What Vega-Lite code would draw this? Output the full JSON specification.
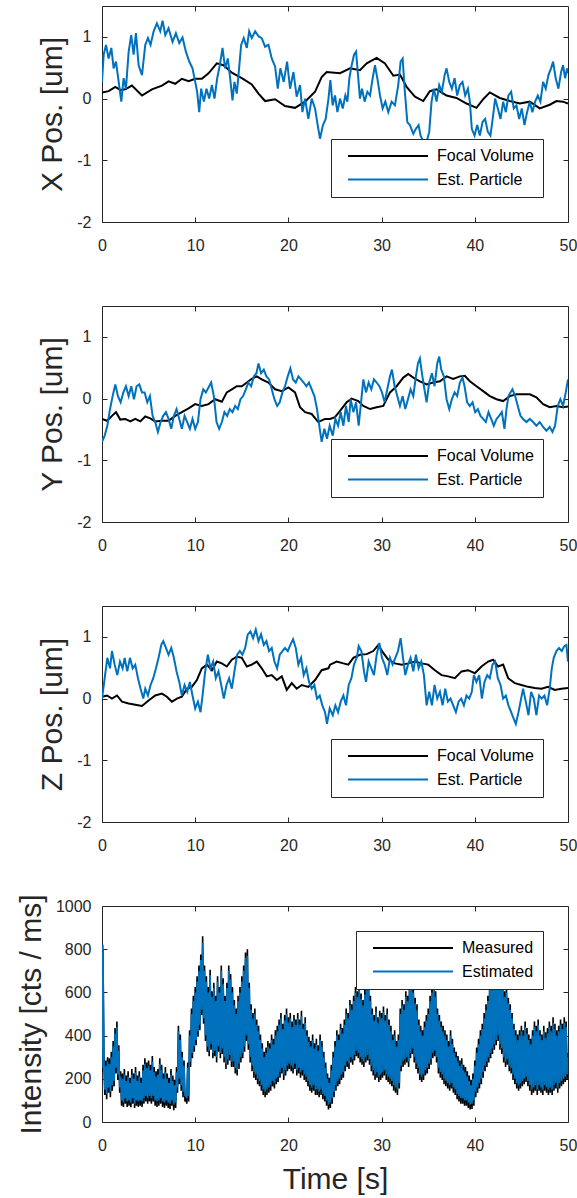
{
"$schema": "https://vega.github.io/schema/vega-lite/v6.json",
"background": "white",
"padding": {"left": 15, "top": 5, "right": 9, "bottom": 2},
"spacing": 84,
"bounds": "flush",
"resolve": {"scale": {"color": "independent"}, "legend": {"color": "independent"}},
"config": {
  "font": "Liberation Sans",
  "view": {"stroke": "#262626", "strokeWidth": 1},
  "axis": {"domain": false, "grid": false, "tickColor": "#262626", "tickSize": -5, "tickWidth": 1, "labelColor": "#262626", "labelFontSize": 16, "labelFlush": false, "labelOverlap": false, "labelBound": false, "titleColor": "#262626", "titleFontSize": 30, "titleFontWeight": "normal"},
  "axisY": {"labelPadding": 16, "titlePadding": 9},
  "axisX": {"labelPadding": 20, "titlePadding": 11},
  "legend": {"title": null, "symbolType": "stroke", "symbolSize": 6400, "symbolStrokeWidth": 2, "clipHeight": 16, "labelFontSize": 16, "labelColor": "#000000", "strokeColor": "#262626", "fillColor": "white", "padding": 9, "symbolOffset": 7, "labelOffset": 8, "rowPadding": 7.5, "cornerRadius": 0, "offset": 25}
},
"datasets": {
"xp": [
{"s":"Focal Volume","t":0,"v":0.1},{"s":"Focal Volume","t":0.71,"v":0.12},{"s":"Focal Volume","t":1.43,"v":0.19},{"s":"Focal Volume","t":1.96,"v":0.14},{"s":"Focal Volume","t":2.5,"v":0.15},{"s":"Focal Volume","t":3.21,"v":0.21},{"s":"Focal Volume","t":4.29,"v":0.05},{"s":"Focal Volume","t":5.36,"v":0.15},{"s":"Focal Volume","t":6.43,"v":0.21},{"s":"Focal Volume","t":7.14,"v":0.28},{"s":"Focal Volume","t":7.86,"v":0.24},{"s":"Focal Volume","t":8.57,"v":0.32},{"s":"Focal Volume","t":9.29,"v":0.28},{"s":"Focal Volume","t":10,"v":0.32},{"s":"Focal Volume","t":10.71,"v":0.32},{"s":"Focal Volume","t":11.43,"v":0.41},{"s":"Focal Volume","t":12.32,"v":0.57},{"s":"Focal Volume","t":13.04,"v":0.54},{"s":"Focal Volume","t":13.93,"v":0.42},{"s":"Focal Volume","t":15,"v":0.33},{"s":"Focal Volume","t":16.07,"v":0.23},{"s":"Focal Volume","t":16.79,"v":0.08},{"s":"Focal Volume","t":17.5,"v":-0.04},{"s":"Focal Volume","t":18.57,"v":-0.01},{"s":"Focal Volume","t":19.64,"v":-0.12},{"s":"Focal Volume","t":20.71,"v":-0.15},{"s":"Focal Volume","t":21.79,"v":-0.05},{"s":"Focal Volume","t":22.86,"v":0.11},{"s":"Focal Volume","t":23.57,"v":0.35},{"s":"Focal Volume","t":24.11,"v":0.43},{"s":"Focal Volume","t":25.54,"v":0.41},{"s":"Focal Volume","t":26.61,"v":0.49},{"s":"Focal Volume","t":27.68,"v":0.46},{"s":"Focal Volume","t":28.4,"v":0.57},{"s":"Focal Volume","t":29.47,"v":0.66},{"s":"Focal Volume","t":30.36,"v":0.57},{"s":"Focal Volume","t":31.26,"v":0.37},{"s":"Focal Volume","t":31.97,"v":0.39},{"s":"Focal Volume","t":32.68,"v":0.19},{"s":"Focal Volume","t":33.58,"v":0.03},{"s":"Focal Volume","t":34.47,"v":-0.04},{"s":"Focal Volume","t":35.18,"v":0.12},{"s":"Focal Volume","t":35.9,"v":0.15},{"s":"Focal Volume","t":36.97,"v":0.05},{"s":"Focal Volume","t":38.04,"v":0.01},{"s":"Focal Volume","t":39.11,"v":-0.08},{"s":"Focal Volume","t":40.18,"v":-0.15},{"s":"Focal Volume","t":40.9,"v":-0.01},{"s":"Focal Volume","t":41.61,"v":0.1},{"s":"Focal Volume","t":42.68,"v":0.01},{"s":"Focal Volume","t":43.76,"v":-0.04},{"s":"Focal Volume","t":44.83,"v":-0.08},{"s":"Focal Volume","t":45.9,"v":-0.05},{"s":"Focal Volume","t":46.97,"v":-0.16},{"s":"Focal Volume","t":48.04,"v":-0.1},{"s":"Focal Volume","t":48.76,"v":-0.04},{"s":"Focal Volume","t":49.47,"v":-0.05},{"s":"Focal Volume","t":50,"v":-0.08},
{"s":"Est. Particle","t":0,"v":0.27},{"s":"Est. Particle","t":0.18,"v":0.71},{"s":"Est. Particle","t":0.43,"v":0.87},{"s":"Est. Particle","t":0.71,"v":0.65},{"s":"Est. Particle","t":1.0,"v":0.82},{"s":"Est. Particle","t":1.25,"v":0.49},{"s":"Est. Particle","t":1.5,"v":0.6},{"s":"Est. Particle","t":1.79,"v":0.27},{"s":"Est. Particle","t":2.07,"v":-0.05},{"s":"Est. Particle","t":2.32,"v":0.33},{"s":"Est. Particle","t":2.57,"v":0.16},{"s":"Est. Particle","t":2.86,"v":0.76},{"s":"Est. Particle","t":3.14,"v":1.03},{"s":"Est. Particle","t":3.39,"v":0.71},{"s":"Est. Particle","t":3.64,"v":1.06},{"s":"Est. Particle","t":3.93,"v":0.54},{"s":"Est. Particle","t":4.29,"v":0.38},{"s":"Est. Particle","t":4.64,"v":0.87},{"s":"Est. Particle","t":4.93,"v":0.98},{"s":"Est. Particle","t":5.21,"v":0.87},{"s":"Est. Particle","t":5.54,"v":1.09},{"s":"Est. Particle","t":5.89,"v":1.22},{"s":"Est. Particle","t":6.25,"v":1.09},{"s":"Est. Particle","t":6.5,"v":1.26},{"s":"Est. Particle","t":6.79,"v":1.03},{"s":"Est. Particle","t":7.14,"v":1.14},{"s":"Est. Particle","t":7.57,"v":0.92},{"s":"Est. Particle","t":7.93,"v":1.06},{"s":"Est. Particle","t":8.29,"v":0.9},{"s":"Est. Particle","t":8.64,"v":0.99},{"s":"Est. Particle","t":9.0,"v":0.76},{"s":"Est. Particle","t":9.36,"v":0.6},{"s":"Est. Particle","t":9.71,"v":0.49},{"s":"Est. Particle","t":10.0,"v":0.27},{"s":"Est. Particle","t":10.21,"v":0.11},{"s":"Est. Particle","t":10.43,"v":-0.22},{"s":"Est. Particle","t":10.64,"v":0.16},{"s":"Est. Particle","t":10.93,"v":-0.05},{"s":"Est. Particle","t":11.21,"v":0.16},{"s":"Est. Particle","t":11.5,"v":0},{"s":"Est. Particle","t":11.79,"v":0.22},{"s":"Est. Particle","t":12.07,"v":0},{"s":"Est. Particle","t":12.36,"v":0.33},{"s":"Est. Particle","t":12.64,"v":0.54},{"s":"Est. Particle","t":12.93,"v":0.82},{"s":"Est. Particle","t":13.21,"v":0.49},{"s":"Est. Particle","t":13.5,"v":0.65},{"s":"Est. Particle","t":13.75,"v":0.33},{"s":"Est. Particle","t":14.0,"v":-0.03},{"s":"Est. Particle","t":14.21,"v":0.27},{"s":"Est. Particle","t":14.46,"v":0.08},{"s":"Est. Particle","t":14.71,"v":0.49},{"s":"Est. Particle","t":14.93,"v":0.87},{"s":"Est. Particle","t":15.21,"v":0.98},{"s":"Est. Particle","t":15.54,"v":0.82},{"s":"Est. Particle","t":15.79,"v":1.09},{"s":"Est. Particle","t":16.07,"v":0.98},{"s":"Est. Particle","t":16.43,"v":1.09},{"s":"Est. Particle","t":16.79,"v":1.01},{"s":"Est. Particle","t":17.14,"v":0.98},{"s":"Est. Particle","t":17.5,"v":0.84},{"s":"Est. Particle","t":17.86,"v":0.87},{"s":"Est. Particle","t":18.21,"v":0.65},{"s":"Est. Particle","t":18.57,"v":0.52},{"s":"Est. Particle","t":18.86,"v":0.16},{"s":"Est. Particle","t":19.14,"v":0.49},{"s":"Est. Particle","t":19.5,"v":0.27},{"s":"Est. Particle","t":19.86,"v":0.6},{"s":"Est. Particle","t":20.18,"v":0.16},{"s":"Est. Particle","t":20.54,"v":0.43},{"s":"Est. Particle","t":20.89,"v":0.03},{"s":"Est. Particle","t":21.25,"v":0.22},{"s":"Est. Particle","t":21.5,"v":-0.22},{"s":"Est. Particle","t":21.79,"v":0},{"s":"Est. Particle","t":22.14,"v":-0.33},{"s":"Est. Particle","t":22.5,"v":0},{"s":"Est. Particle","t":22.86,"v":-0.16},{"s":"Est. Particle","t":23.14,"v":-0.43},{"s":"Est. Particle","t":23.39,"v":-0.65},{"s":"Est. Particle","t":23.71,"v":-0.43},{"s":"Est. Particle","t":24.0,"v":-0.33},{"s":"Est. Particle","t":24.3,"v":0},{"s":"Est. Particle","t":24.5,"v":0.3},{"s":"Est. Particle","t":24.75,"v":-0.11},{"s":"Est. Particle","t":25.0,"v":0.05},{"s":"Est. Particle","t":25.26,"v":-0.22},{"s":"Est. Particle","t":25.54,"v":0},{"s":"Est. Particle","t":25.83,"v":-0.16},{"s":"Est. Particle","t":26.11,"v":0.05},{"s":"Est. Particle","t":26.33,"v":-0.05},{"s":"Est. Particle","t":26.54,"v":0.33},{"s":"Est. Particle","t":26.79,"v":0.54},{"s":"Est. Particle","t":27.04,"v":0.71},{"s":"Est. Particle","t":27.26,"v":0.76},{"s":"Est. Particle","t":27.47,"v":0.38},{"s":"Est. Particle","t":27.68,"v":0},{"s":"Est. Particle","t":27.9,"v":0.16},{"s":"Est. Particle","t":28.18,"v":-0.05},{"s":"Est. Particle","t":28.47,"v":0.11},{"s":"Est. Particle","t":28.76,"v":0.05},{"s":"Est. Particle","t":29.04,"v":0.33},{"s":"Est. Particle","t":29.29,"v":0.54},{"s":"Est. Particle","t":29.54,"v":0.33},{"s":"Est. Particle","t":29.83,"v":0.05},{"s":"Est. Particle","t":30.11,"v":-0.16},{"s":"Est. Particle","t":30.4,"v":-0.05},{"s":"Est. Particle","t":30.72,"v":-0.22},{"s":"Est. Particle","t":31.08,"v":-0.05},{"s":"Est. Particle","t":31.43,"v":-0.11},{"s":"Est. Particle","t":31.79,"v":0.22},{"s":"Est. Particle","t":32.04,"v":0.6},{"s":"Est. Particle","t":32.26,"v":0.65},{"s":"Est. Particle","t":32.47,"v":0.16},{"s":"Est. Particle","t":32.76,"v":-0.38},{"s":"Est. Particle","t":33.04,"v":-0.43},{"s":"Est. Particle","t":33.4,"v":-0.57},{"s":"Est. Particle","t":33.68,"v":-0.49},{"s":"Est. Particle","t":33.97,"v":-0.43},{"s":"Est. Particle","t":34.18,"v":-0.6},{"s":"Est. Particle","t":34.54,"v":-0.71},{"s":"Est. Particle","t":34.83,"v":-0.7},{"s":"Est. Particle","t":35.11,"v":-0.54},{"s":"Est. Particle","t":35.36,"v":-0.05},{"s":"Est. Particle","t":35.61,"v":0.16},{"s":"Est. Particle","t":35.9,"v":-0.05},{"s":"Est. Particle","t":36.18,"v":0.22},{"s":"Est. Particle","t":36.47,"v":0.11},{"s":"Est. Particle","t":36.76,"v":0.38},{"s":"Est. Particle","t":36.97,"v":0.49},{"s":"Est. Particle","t":37.26,"v":0.27},{"s":"Est. Particle","t":37.54,"v":0.16},{"s":"Est. Particle","t":37.83,"v":0.33},{"s":"Est. Particle","t":38.11,"v":0.05},{"s":"Est. Particle","t":38.4,"v":0.22},{"s":"Est. Particle","t":38.68,"v":0.27},{"s":"Est. Particle","t":38.97,"v":0.05},{"s":"Est. Particle","t":39.26,"v":0.16},{"s":"Est. Particle","t":39.47,"v":-0.05},{"s":"Est. Particle","t":39.68,"v":-0.49},{"s":"Est. Particle","t":39.97,"v":-0.6},{"s":"Est. Particle","t":40.26,"v":-0.43},{"s":"Est. Particle","t":40.54,"v":-0.6},{"s":"Est. Particle","t":40.83,"v":-0.38},{"s":"Est. Particle","t":41.11,"v":-0.33},{"s":"Est. Particle","t":41.4,"v":-0.54},{"s":"Est. Particle","t":41.68,"v":-0.6},{"s":"Est. Particle","t":41.97,"v":-0.27},{"s":"Est. Particle","t":42.18,"v":0},{"s":"Est. Particle","t":42.47,"v":-0.16},{"s":"Est. Particle","t":42.76,"v":-0.33},{"s":"Est. Particle","t":43.04,"v":-0.05},{"s":"Est. Particle","t":43.33,"v":-0.22},{"s":"Est. Particle","t":43.61,"v":0.05},{"s":"Est. Particle","t":43.9,"v":0.11},{"s":"Est. Particle","t":44.18,"v":-0.16},{"s":"Est. Particle","t":44.47,"v":-0.11},{"s":"Est. Particle","t":44.76,"v":-0.33},{"s":"Est. Particle","t":45.04,"v":-0.16},{"s":"Est. Particle","t":45.33,"v":-0.43},{"s":"Est. Particle","t":45.61,"v":-0.22},{"s":"Est. Particle","t":45.9,"v":-0.05},{"s":"Est. Particle","t":46.18,"v":-0.22},{"s":"Est. Particle","t":46.47,"v":-0.05},{"s":"Est. Particle","t":46.76,"v":0.05},{"s":"Est. Particle","t":47.04,"v":-0.05},{"s":"Est. Particle","t":47.33,"v":0.27},{"s":"Est. Particle","t":47.61,"v":0.16},{"s":"Est. Particle","t":47.9,"v":0.38},{"s":"Est. Particle","t":48.18,"v":0.49},{"s":"Est. Particle","t":48.4,"v":0.6},{"s":"Est. Particle","t":48.68,"v":0.33},{"s":"Est. Particle","t":48.97,"v":0.16},{"s":"Est. Particle","t":49.26,"v":0.43},{"s":"Est. Particle","t":49.47,"v":0.54},{"s":"Est. Particle","t":49.69,"v":0.33},{"s":"Est. Particle","t":49.9,"v":0.49},{"s":"Est. Particle","t":50,"v":0.41}
],
"yp": [
{"s":"Focal Volume","t":0,"v":-0.33},{"s":"Focal Volume","t":0.54,"v":-0.36},{"s":"Focal Volume","t":1.07,"v":-0.28},{"s":"Focal Volume","t":1.5,"v":-0.22},{"s":"Focal Volume","t":1.96,"v":-0.34},{"s":"Focal Volume","t":2.5,"v":-0.33},{"s":"Focal Volume","t":3.04,"v":-0.37},{"s":"Focal Volume","t":3.57,"v":-0.33},{"s":"Focal Volume","t":4.11,"v":-0.37},{"s":"Focal Volume","t":4.64,"v":-0.29},{"s":"Focal Volume","t":5.18,"v":-0.32},{"s":"Focal Volume","t":5.71,"v":-0.37},{"s":"Focal Volume","t":6.43,"v":-0.36},{"s":"Focal Volume","t":7.14,"v":-0.36},{"s":"Focal Volume","t":7.86,"v":-0.28},{"s":"Focal Volume","t":8.57,"v":-0.22},{"s":"Focal Volume","t":9.29,"v":-0.16},{"s":"Focal Volume","t":10,"v":-0.09},{"s":"Focal Volume","t":10.71,"v":-0.12},{"s":"Focal Volume","t":11.43,"v":-0.09},{"s":"Focal Volume","t":12.14,"v":-0.01},{"s":"Focal Volume","t":12.86,"v":-0.05},{"s":"Focal Volume","t":13.39,"v":0.1},{"s":"Focal Volume","t":13.93,"v":0.15},{"s":"Focal Volume","t":14.46,"v":0.2},{"s":"Focal Volume","t":15,"v":0.2},{"s":"Focal Volume","t":15.54,"v":0.26},{"s":"Focal Volume","t":16.07,"v":0.32},{"s":"Focal Volume","t":16.61,"v":0.36},{"s":"Focal Volume","t":17.14,"v":0.31},{"s":"Focal Volume","t":17.86,"v":0.26},{"s":"Focal Volume","t":18.57,"v":0.15},{"s":"Focal Volume","t":19.29,"v":0.12},{"s":"Focal Volume","t":20,"v":0.18},{"s":"Focal Volume","t":20.71,"v":0.1},{"s":"Focal Volume","t":21.25,"v":-0.14},{"s":"Focal Volume","t":21.79,"v":-0.22},{"s":"Focal Volume","t":22.5,"v":-0.25},{"s":"Focal Volume","t":23.21,"v":-0.38},{"s":"Focal Volume","t":23.93,"v":-0.33},{"s":"Focal Volume","t":24.47,"v":-0.33},{"s":"Focal Volume","t":25.0,"v":-0.3},{"s":"Focal Volume","t":25.54,"v":-0.2},{"s":"Focal Volume","t":26.25,"v":-0.06},{"s":"Focal Volume","t":26.79,"v":0},{"s":"Focal Volume","t":27.5,"v":-0.04},{"s":"Focal Volume","t":28.04,"v":-0.12},{"s":"Focal Volume","t":28.76,"v":-0.17},{"s":"Focal Volume","t":29.47,"v":-0.14},{"s":"Focal Volume","t":30.18,"v":-0.12},{"s":"Focal Volume","t":30.9,"v":0.1},{"s":"Focal Volume","t":31.61,"v":0.2},{"s":"Focal Volume","t":32.33,"v":0.34},{"s":"Focal Volume","t":32.86,"v":0.4},{"s":"Focal Volume","t":33.4,"v":0.34},{"s":"Focal Volume","t":34.11,"v":0.28},{"s":"Focal Volume","t":34.83,"v":0.23},{"s":"Focal Volume","t":35.54,"v":0.26},{"s":"Focal Volume","t":36.26,"v":0.28},{"s":"Focal Volume","t":36.97,"v":0.36},{"s":"Focal Volume","t":37.68,"v":0.32},{"s":"Focal Volume","t":38.4,"v":0.36},{"s":"Focal Volume","t":38.93,"v":0.37},{"s":"Focal Volume","t":39.47,"v":0.28},{"s":"Focal Volume","t":40.18,"v":0.2},{"s":"Focal Volume","t":40.9,"v":0.12},{"s":"Focal Volume","t":41.61,"v":0.04},{"s":"Focal Volume","t":42.33,"v":-0.01},{"s":"Focal Volume","t":43.04,"v":-0.04},{"s":"Focal Volume","t":43.76,"v":0.04},{"s":"Focal Volume","t":44.47,"v":0.07},{"s":"Focal Volume","t":45.18,"v":0.07},{"s":"Focal Volume","t":45.9,"v":0.07},{"s":"Focal Volume","t":46.61,"v":0.02},{"s":"Focal Volume","t":47.33,"v":-0.09},{"s":"Focal Volume","t":48.04,"v":-0.14},{"s":"Focal Volume","t":48.76,"v":-0.12},{"s":"Focal Volume","t":49.47,"v":-0.14},{"s":"Focal Volume","t":50,"v":-0.13},
{"s":"Est. Particle","t":0,"v":-0.7},{"s":"Est. Particle","t":0.29,"v":-0.6},{"s":"Est. Particle","t":0.57,"v":-0.44},{"s":"Est. Particle","t":0.86,"v":-0.17},{"s":"Est. Particle","t":1.14,"v":0.04},{"s":"Est. Particle","t":1.43,"v":0.23},{"s":"Est. Particle","t":1.71,"v":0.04},{"s":"Est. Particle","t":2.0,"v":-0.06},{"s":"Est. Particle","t":2.29,"v":0.1},{"s":"Est. Particle","t":2.57,"v":0.2},{"s":"Est. Particle","t":2.86,"v":0.04},{"s":"Est. Particle","t":3.14,"v":0.2},{"s":"Est. Particle","t":3.43,"v":-0.01},{"s":"Est. Particle","t":3.71,"v":0.2},{"s":"Est. Particle","t":4.0,"v":0.23},{"s":"Est. Particle","t":4.29,"v":0.1},{"s":"Est. Particle","t":4.57,"v":0.1},{"s":"Est. Particle","t":4.86,"v":-0.06},{"s":"Est. Particle","t":5.14,"v":0.04},{"s":"Est. Particle","t":5.43,"v":-0.28},{"s":"Est. Particle","t":5.71,"v":-0.38},{"s":"Est. Particle","t":6.0,"v":-0.54},{"s":"Est. Particle","t":6.29,"v":-0.38},{"s":"Est. Particle","t":6.57,"v":-0.28},{"s":"Est. Particle","t":6.86,"v":-0.22},{"s":"Est. Particle","t":7.14,"v":-0.33},{"s":"Est. Particle","t":7.43,"v":-0.49},{"s":"Est. Particle","t":7.71,"v":-0.28},{"s":"Est. Particle","t":8.0,"v":-0.17},{"s":"Est. Particle","t":8.29,"v":-0.33},{"s":"Est. Particle","t":8.57,"v":-0.49},{"s":"Est. Particle","t":8.86,"v":-0.28},{"s":"Est. Particle","t":9.14,"v":-0.38},{"s":"Est. Particle","t":9.43,"v":-0.49},{"s":"Est. Particle","t":9.71,"v":-0.33},{"s":"Est. Particle","t":10.0,"v":-0.49},{"s":"Est. Particle","t":10.29,"v":-0.38},{"s":"Est. Particle","t":10.57,"v":-0.01},{"s":"Est. Particle","t":10.86,"v":0.15},{"s":"Est. Particle","t":11.14,"v":0.1},{"s":"Est. Particle","t":11.43,"v":0.18},{"s":"Est. Particle","t":11.71,"v":0.26},{"s":"Est. Particle","t":12.0,"v":0.04},{"s":"Est. Particle","t":12.29,"v":-0.38},{"s":"Est. Particle","t":12.57,"v":-0.49},{"s":"Est. Particle","t":12.86,"v":-0.38},{"s":"Est. Particle","t":13.14,"v":-0.22},{"s":"Est. Particle","t":13.43,"v":-0.28},{"s":"Est. Particle","t":13.71,"v":-0.17},{"s":"Est. Particle","t":14.0,"v":-0.22},{"s":"Est. Particle","t":14.29,"v":-0.12},{"s":"Est. Particle","t":14.57,"v":-0.17},{"s":"Est. Particle","t":14.86,"v":-0.01},{"s":"Est. Particle","t":15.14,"v":0.04},{"s":"Est. Particle","t":15.43,"v":0.15},{"s":"Est. Particle","t":15.71,"v":0.26},{"s":"Est. Particle","t":16.0,"v":0.2},{"s":"Est. Particle","t":16.29,"v":0.36},{"s":"Est. Particle","t":16.57,"v":0.41},{"s":"Est. Particle","t":16.79,"v":0.57},{"s":"Est. Particle","t":17.07,"v":0.41},{"s":"Est. Particle","t":17.36,"v":0.47},{"s":"Est. Particle","t":17.64,"v":0.36},{"s":"Est. Particle","t":17.93,"v":0.31},{"s":"Est. Particle","t":18.21,"v":0.15},{"s":"Est. Particle","t":18.5,"v":-0.01},{"s":"Est. Particle","t":18.79,"v":-0.12},{"s":"Est. Particle","t":19.07,"v":-0.06},{"s":"Est. Particle","t":19.36,"v":0.1},{"s":"Est. Particle","t":19.64,"v":0.2},{"s":"Est. Particle","t":19.93,"v":0.36},{"s":"Est. Particle","t":20.21,"v":0.49},{"s":"Est. Particle","t":20.5,"v":0.31},{"s":"Est. Particle","t":20.79,"v":0.26},{"s":"Est. Particle","t":21.07,"v":0.36},{"s":"Est. Particle","t":21.36,"v":0.31},{"s":"Est. Particle","t":21.64,"v":0.26},{"s":"Est. Particle","t":21.93,"v":0.2},{"s":"Est. Particle","t":22.21,"v":0.26},{"s":"Est. Particle","t":22.5,"v":0.15},{"s":"Est. Particle","t":22.79,"v":0.04},{"s":"Est. Particle","t":23.07,"v":-0.17},{"s":"Est. Particle","t":23.36,"v":-0.49},{"s":"Est. Particle","t":23.57,"v":-0.7},{"s":"Est. Particle","t":23.86,"v":-0.49},{"s":"Est. Particle","t":24.14,"v":-0.65},{"s":"Est. Particle","t":24.43,"v":-0.44},{"s":"Est. Particle","t":24.76,"v":-0.6},{"s":"Est. Particle","t":25.04,"v":-0.33},{"s":"Est. Particle","t":25.33,"v":-0.44},{"s":"Est. Particle","t":25.61,"v":-0.22},{"s":"Est. Particle","t":25.9,"v":-0.44},{"s":"Est. Particle","t":26.18,"v":-0.12},{"s":"Est. Particle","t":26.47,"v":-0.38},{"s":"Est. Particle","t":26.68,"v":-0.01},{"s":"Est. Particle","t":26.97,"v":-0.22},{"s":"Est. Particle","t":27.26,"v":-0.06},{"s":"Est. Particle","t":27.54,"v":-0.44},{"s":"Est. Particle","t":27.83,"v":-0.01},{"s":"Est. Particle","t":28.04,"v":0.31},{"s":"Est. Particle","t":28.33,"v":0.1},{"s":"Est. Particle","t":28.61,"v":0.26},{"s":"Est. Particle","t":28.9,"v":0.15},{"s":"Est. Particle","t":29.18,"v":0.31},{"s":"Est. Particle","t":29.47,"v":0.26},{"s":"Est. Particle","t":29.76,"v":0.2},{"s":"Est. Particle","t":30.04,"v":0.1},{"s":"Est. Particle","t":30.33,"v":-0.06},{"s":"Est. Particle","t":30.61,"v":0.15},{"s":"Est. Particle","t":30.9,"v":0.36},{"s":"Est. Particle","t":31.11,"v":0.47},{"s":"Est. Particle","t":31.4,"v":0.2},{"s":"Est. Particle","t":31.68,"v":0.04},{"s":"Est. Particle","t":31.97,"v":-0.12},{"s":"Est. Particle","t":32.26,"v":0.04},{"s":"Est. Particle","t":32.54,"v":-0.17},{"s":"Est. Particle","t":32.83,"v":-0.01},{"s":"Est. Particle","t":33.11,"v":0.15},{"s":"Est. Particle","t":33.4,"v":0.04},{"s":"Est. Particle","t":33.68,"v":0.36},{"s":"Est. Particle","t":33.9,"v":0.57},{"s":"Est. Particle","t":34.11,"v":0.65},{"s":"Est. Particle","t":34.33,"v":0.41},{"s":"Est. Particle","t":34.54,"v":0.2},{"s":"Est. Particle","t":34.83,"v":-0.06},{"s":"Est. Particle","t":35.11,"v":0.26},{"s":"Est. Particle","t":35.4,"v":0.41},{"s":"Est. Particle","t":35.68,"v":0.2},{"s":"Est. Particle","t":35.97,"v":0.57},{"s":"Est. Particle","t":36.18,"v":0.68},{"s":"Est. Particle","t":36.4,"v":0.47},{"s":"Est. Particle","t":36.68,"v":0.36},{"s":"Est. Particle","t":36.97,"v":-0.01},{"s":"Est. Particle","t":37.26,"v":-0.17},{"s":"Est. Particle","t":37.54,"v":-0.01},{"s":"Est. Particle","t":37.83,"v":0.1},{"s":"Est. Particle","t":38.11,"v":0.04},{"s":"Est. Particle","t":38.4,"v":0.26},{"s":"Est. Particle","t":38.68,"v":0.34},{"s":"Est. Particle","t":38.9,"v":0.2},{"s":"Est. Particle","t":39.18,"v":-0.06},{"s":"Est. Particle","t":39.47,"v":-0.12},{"s":"Est. Particle","t":39.76,"v":-0.06},{"s":"Est. Particle","t":40.04,"v":-0.22},{"s":"Est. Particle","t":40.33,"v":-0.17},{"s":"Est. Particle","t":40.61,"v":-0.28},{"s":"Est. Particle","t":40.9,"v":-0.33},{"s":"Est. Particle","t":41.18,"v":-0.38},{"s":"Est. Particle","t":41.47,"v":-0.22},{"s":"Est. Particle","t":41.76,"v":-0.33},{"s":"Est. Particle","t":42.04,"v":-0.44},{"s":"Est. Particle","t":42.33,"v":-0.33},{"s":"Est. Particle","t":42.61,"v":-0.28},{"s":"Est. Particle","t":42.9,"v":-0.22},{"s":"Est. Particle","t":43.18,"v":-0.49},{"s":"Est. Particle","t":43.4,"v":-0.17},{"s":"Est. Particle","t":43.61,"v":0.04},{"s":"Est. Particle","t":43.83,"v":0.1},{"s":"Est. Particle","t":44.04,"v":0.15},{"s":"Est. Particle","t":44.33,"v":0.04},{"s":"Est. Particle","t":44.61,"v":-0.12},{"s":"Est. Particle","t":44.9,"v":-0.28},{"s":"Est. Particle","t":45.18,"v":-0.33},{"s":"Est. Particle","t":45.54,"v":-0.38},{"s":"Est. Particle","t":45.9,"v":-0.33},{"s":"Est. Particle","t":46.26,"v":-0.38},{"s":"Est. Particle","t":46.61,"v":-0.44},{"s":"Est. Particle","t":46.97,"v":-0.38},{"s":"Est. Particle","t":47.33,"v":-0.46},{"s":"Est. Particle","t":47.68,"v":-0.52},{"s":"Est. Particle","t":48.04,"v":-0.46},{"s":"Est. Particle","t":48.33,"v":-0.54},{"s":"Est. Particle","t":48.61,"v":-0.44},{"s":"Est. Particle","t":48.9,"v":-0.12},{"s":"Est. Particle","t":49.18,"v":-0.01},{"s":"Est. Particle","t":49.47,"v":-0.12},{"s":"Est. Particle","t":49.76,"v":0.1},{"s":"Est. Particle","t":50,"v":0.31}
],
"zp": [
{"s":"Focal Volume","t":0,"v":0.03},{"s":"Focal Volume","t":0.54,"v":0.05},{"s":"Focal Volume","t":1.07,"v":0},{"s":"Focal Volume","t":1.61,"v":0.05},{"s":"Focal Volume","t":2.14,"v":-0.05},{"s":"Focal Volume","t":2.86,"v":-0.08},{"s":"Focal Volume","t":3.57,"v":-0.1},{"s":"Focal Volume","t":4.29,"v":-0.12},{"s":"Focal Volume","t":5.0,"v":-0.03},{"s":"Focal Volume","t":5.71,"v":0.05},{"s":"Focal Volume","t":6.43,"v":0.08},{"s":"Focal Volume","t":6.96,"v":0.03},{"s":"Focal Volume","t":7.5,"v":-0.05},{"s":"Focal Volume","t":8.04,"v":0},{"s":"Focal Volume","t":8.57,"v":0.03},{"s":"Focal Volume","t":9.11,"v":0.16},{"s":"Focal Volume","t":9.64,"v":0.19},{"s":"Focal Volume","t":10.18,"v":0.3},{"s":"Focal Volume","t":10.71,"v":0.49},{"s":"Focal Volume","t":11.25,"v":0.55},{"s":"Focal Volume","t":11.79,"v":0.46},{"s":"Focal Volume","t":12.32,"v":0.6},{"s":"Focal Volume","t":12.86,"v":0.57},{"s":"Focal Volume","t":13.39,"v":0.52},{"s":"Focal Volume","t":13.93,"v":0.63},{"s":"Focal Volume","t":14.46,"v":0.68},{"s":"Focal Volume","t":15.0,"v":0.66},{"s":"Focal Volume","t":15.54,"v":0.52},{"s":"Focal Volume","t":16.07,"v":0.55},{"s":"Focal Volume","t":16.61,"v":0.6},{"s":"Focal Volume","t":17.14,"v":0.49},{"s":"Focal Volume","t":17.68,"v":0.36},{"s":"Focal Volume","t":18.21,"v":0.38},{"s":"Focal Volume","t":18.75,"v":0.3},{"s":"Focal Volume","t":19.29,"v":0.36},{"s":"Focal Volume","t":19.82,"v":0.14},{"s":"Focal Volume","t":20.36,"v":0.25},{"s":"Focal Volume","t":20.89,"v":0.16},{"s":"Focal Volume","t":21.43,"v":0.22},{"s":"Focal Volume","t":22.14,"v":0.19},{"s":"Focal Volume","t":22.86,"v":0.3},{"s":"Focal Volume","t":23.57,"v":0.46},{"s":"Focal Volume","t":24.29,"v":0.49},{"s":"Focal Volume","t":24.47,"v":0.55},{"s":"Focal Volume","t":25.18,"v":0.6},{"s":"Focal Volume","t":25.9,"v":0.57},{"s":"Focal Volume","t":26.43,"v":0.55},{"s":"Focal Volume","t":26.97,"v":0.66},{"s":"Focal Volume","t":27.68,"v":0.71},{"s":"Focal Volume","t":28.4,"v":0.72},{"s":"Focal Volume","t":29.11,"v":0.77},{"s":"Focal Volume","t":29.65,"v":0.87},{"s":"Focal Volume","t":30.18,"v":0.74},{"s":"Focal Volume","t":30.72,"v":0.63},{"s":"Focal Volume","t":31.43,"v":0.57},{"s":"Focal Volume","t":32.15,"v":0.55},{"s":"Focal Volume","t":32.86,"v":0.57},{"s":"Focal Volume","t":33.58,"v":0.6},{"s":"Focal Volume","t":34.29,"v":0.57},{"s":"Focal Volume","t":35.0,"v":0.55},{"s":"Focal Volume","t":35.72,"v":0.46},{"s":"Focal Volume","t":36.43,"v":0.38},{"s":"Focal Volume","t":37.15,"v":0.36},{"s":"Focal Volume","t":37.86,"v":0.33},{"s":"Focal Volume","t":38.58,"v":0.44},{"s":"Focal Volume","t":39.29,"v":0.46},{"s":"Focal Volume","t":40.0,"v":0.41},{"s":"Focal Volume","t":40.72,"v":0.52},{"s":"Focal Volume","t":41.43,"v":0.6},{"s":"Focal Volume","t":41.97,"v":0.63},{"s":"Focal Volume","t":42.51,"v":0.52},{"s":"Focal Volume","t":43.04,"v":0.55},{"s":"Focal Volume","t":43.58,"v":0.33},{"s":"Focal Volume","t":44.29,"v":0.25},{"s":"Focal Volume","t":45.0,"v":0.22},{"s":"Focal Volume","t":45.72,"v":0.19},{"s":"Focal Volume","t":46.43,"v":0.17},{"s":"Focal Volume","t":47.15,"v":0.16},{"s":"Focal Volume","t":47.86,"v":0.19},{"s":"Focal Volume","t":48.58,"v":0.14},{"s":"Focal Volume","t":49.29,"v":0.16},{"s":"Focal Volume","t":50,"v":0.17},
{"s":"Est. Particle","t":0,"v":0},{"s":"Est. Particle","t":0.29,"v":0.33},{"s":"Est. Particle","t":0.57,"v":0.66},{"s":"Est. Particle","t":0.86,"v":0.49},{"s":"Est. Particle","t":1.07,"v":0.77},{"s":"Est. Particle","t":1.36,"v":0.55},{"s":"Est. Particle","t":1.64,"v":0.38},{"s":"Est. Particle","t":1.93,"v":0.6},{"s":"Est. Particle","t":2.21,"v":0.49},{"s":"Est. Particle","t":2.43,"v":0.66},{"s":"Est. Particle","t":2.71,"v":0.44},{"s":"Est. Particle","t":3.0,"v":0.66},{"s":"Est. Particle","t":3.29,"v":0.49},{"s":"Est. Particle","t":3.57,"v":0.55},{"s":"Est. Particle","t":3.86,"v":0.33},{"s":"Est. Particle","t":4.14,"v":0.16},{"s":"Est. Particle","t":4.43,"v":0},{"s":"Est. Particle","t":4.64,"v":0.16},{"s":"Est. Particle","t":4.93,"v":0.05},{"s":"Est. Particle","t":5.21,"v":0.22},{"s":"Est. Particle","t":5.5,"v":0.33},{"s":"Est. Particle","t":5.79,"v":0.49},{"s":"Est. Particle","t":6.07,"v":0.66},{"s":"Est. Particle","t":6.36,"v":0.87},{"s":"Est. Particle","t":6.57,"v":0.93},{"s":"Est. Particle","t":6.86,"v":0.82},{"s":"Est. Particle","t":7.14,"v":0.71},{"s":"Est. Particle","t":7.43,"v":0.82},{"s":"Est. Particle","t":7.71,"v":0.66},{"s":"Est. Particle","t":8.0,"v":0.44},{"s":"Est. Particle","t":8.29,"v":0.27},{"s":"Est. Particle","t":8.57,"v":0.05},{"s":"Est. Particle","t":8.86,"v":0.22},{"s":"Est. Particle","t":9.14,"v":0.11},{"s":"Est. Particle","t":9.43,"v":0.27},{"s":"Est. Particle","t":9.71,"v":0.05},{"s":"Est. Particle","t":10.0,"v":-0.16},{"s":"Est. Particle","t":10.29,"v":-0.05},{"s":"Est. Particle","t":10.57,"v":-0.22},{"s":"Est. Particle","t":10.79,"v":0.05},{"s":"Est. Particle","t":11.07,"v":0.44},{"s":"Est. Particle","t":11.36,"v":0.71},{"s":"Est. Particle","t":11.64,"v":0.49},{"s":"Est. Particle","t":11.93,"v":0.6},{"s":"Est. Particle","t":12.21,"v":0.33},{"s":"Est. Particle","t":12.5,"v":0.44},{"s":"Est. Particle","t":12.79,"v":0.22},{"s":"Est. Particle","t":13.07,"v":0},{"s":"Est. Particle","t":13.36,"v":0.22},{"s":"Est. Particle","t":13.64,"v":0.33},{"s":"Est. Particle","t":13.93,"v":0.16},{"s":"Est. Particle","t":14.21,"v":0.44},{"s":"Est. Particle","t":14.5,"v":0.71},{"s":"Est. Particle","t":14.79,"v":0.77},{"s":"Est. Particle","t":15.07,"v":0.71},{"s":"Est. Particle","t":15.36,"v":0.82},{"s":"Est. Particle","t":15.64,"v":1.04},{"s":"Est. Particle","t":15.93,"v":1.09},{"s":"Est. Particle","t":16.21,"v":0.98},{"s":"Est. Particle","t":16.5,"v":1.12},{"s":"Est. Particle","t":16.79,"v":0.93},{"s":"Est. Particle","t":17.07,"v":1.04},{"s":"Est. Particle","t":17.36,"v":0.87},{"s":"Est. Particle","t":17.64,"v":0.93},{"s":"Est. Particle","t":17.93,"v":0.77},{"s":"Est. Particle","t":18.21,"v":0.82},{"s":"Est. Particle","t":18.5,"v":0.6},{"s":"Est. Particle","t":18.79,"v":0.49},{"s":"Est. Particle","t":19.07,"v":0.71},{"s":"Est. Particle","t":19.36,"v":0.77},{"s":"Est. Particle","t":19.64,"v":0.82},{"s":"Est. Particle","t":19.93,"v":0.77},{"s":"Est. Particle","t":20.21,"v":0.87},{"s":"Est. Particle","t":20.5,"v":0.96},{"s":"Est. Particle","t":20.79,"v":0.82},{"s":"Est. Particle","t":21.07,"v":0.55},{"s":"Est. Particle","t":21.36,"v":0.66},{"s":"Est. Particle","t":21.64,"v":0.38},{"s":"Est. Particle","t":21.93,"v":0.49},{"s":"Est. Particle","t":22.21,"v":0.27},{"s":"Est. Particle","t":22.5,"v":0.16},{"s":"Est. Particle","t":22.79,"v":0.22},{"s":"Est. Particle","t":23.07,"v":0},{"s":"Est. Particle","t":23.36,"v":0.05},{"s":"Est. Particle","t":23.64,"v":-0.11},{"s":"Est. Particle","t":23.93,"v":-0.22},{"s":"Est. Particle","t":24.14,"v":-0.41},{"s":"Est. Particle","t":24.43,"v":-0.16},{"s":"Est. Particle","t":24.76,"v":-0.27},{"s":"Est. Particle","t":25.04,"v":-0.11},{"s":"Est. Particle","t":25.33,"v":-0.22},{"s":"Est. Particle","t":25.61,"v":-0.05},{"s":"Est. Particle","t":25.9,"v":0.05},{"s":"Est. Particle","t":26.18,"v":-0.11},{"s":"Est. Particle","t":26.47,"v":0.22},{"s":"Est. Particle","t":26.76,"v":0.33},{"s":"Est. Particle","t":27.04,"v":0.55},{"s":"Est. Particle","t":27.33,"v":0.66},{"s":"Est. Particle","t":27.54,"v":0.85},{"s":"Est. Particle","t":27.83,"v":0.77},{"s":"Est. Particle","t":28.11,"v":0.44},{"s":"Est. Particle","t":28.33,"v":0.27},{"s":"Est. Particle","t":28.61,"v":0.6},{"s":"Est. Particle","t":28.9,"v":0.49},{"s":"Est. Particle","t":29.18,"v":0.38},{"s":"Est. Particle","t":29.47,"v":0.71},{"s":"Est. Particle","t":29.76,"v":0.9},{"s":"Est. Particle","t":30.04,"v":0.66},{"s":"Est. Particle","t":30.33,"v":0.55},{"s":"Est. Particle","t":30.61,"v":0.38},{"s":"Est. Particle","t":30.9,"v":0.66},{"s":"Est. Particle","t":31.18,"v":0.55},{"s":"Est. Particle","t":31.47,"v":0.66},{"s":"Est. Particle","t":31.76,"v":0.77},{"s":"Est. Particle","t":32.04,"v":0.98},{"s":"Est. Particle","t":32.26,"v":0.71},{"s":"Est. Particle","t":32.54,"v":0.38},{"s":"Est. Particle","t":32.83,"v":0.55},{"s":"Est. Particle","t":33.11,"v":0.66},{"s":"Est. Particle","t":33.4,"v":0.44},{"s":"Est. Particle","t":33.68,"v":0.71},{"s":"Est. Particle","t":33.97,"v":0.49},{"s":"Est. Particle","t":34.26,"v":0.6},{"s":"Est. Particle","t":34.54,"v":0.38},{"s":"Est. Particle","t":34.83,"v":-0.11},{"s":"Est. Particle","t":35.11,"v":0.11},{"s":"Est. Particle","t":35.4,"v":-0.11},{"s":"Est. Particle","t":35.68,"v":0.22},{"s":"Est. Particle","t":35.97,"v":0},{"s":"Est. Particle","t":36.26,"v":0.11},{"s":"Est. Particle","t":36.54,"v":-0.11},{"s":"Est. Particle","t":36.83,"v":0.16},{"s":"Est. Particle","t":37.11,"v":-0.05},{"s":"Est. Particle","t":37.4,"v":0},{"s":"Est. Particle","t":37.68,"v":-0.11},{"s":"Est. Particle","t":37.97,"v":-0.22},{"s":"Est. Particle","t":38.26,"v":-0.05},{"s":"Est. Particle","t":38.54,"v":0},{"s":"Est. Particle","t":38.83,"v":-0.11},{"s":"Est. Particle","t":39.11,"v":0.05},{"s":"Est. Particle","t":39.4,"v":0},{"s":"Est. Particle","t":39.68,"v":0.11},{"s":"Est. Particle","t":39.9,"v":0.38},{"s":"Est. Particle","t":40.18,"v":0.27},{"s":"Est. Particle","t":40.47,"v":0.38},{"s":"Est. Particle","t":40.76,"v":0},{"s":"Est. Particle","t":41.04,"v":0.27},{"s":"Est. Particle","t":41.33,"v":0.38},{"s":"Est. Particle","t":41.61,"v":0.33},{"s":"Est. Particle","t":41.9,"v":0.55},{"s":"Est. Particle","t":42.18,"v":0.6},{"s":"Est. Particle","t":42.47,"v":0.33},{"s":"Est. Particle","t":42.76,"v":0.22},{"s":"Est. Particle","t":43.04,"v":0},{"s":"Est. Particle","t":43.33,"v":0.05},{"s":"Est. Particle","t":43.61,"v":-0.11},{"s":"Est. Particle","t":43.9,"v":-0.22},{"s":"Est. Particle","t":44.18,"v":-0.33},{"s":"Est. Particle","t":44.4,"v":-0.41},{"s":"Est. Particle","t":44.69,"v":-0.22},{"s":"Est. Particle","t":44.97,"v":0},{"s":"Est. Particle","t":45.18,"v":0.16},{"s":"Est. Particle","t":45.47,"v":-0.05},{"s":"Est. Particle","t":45.76,"v":-0.27},{"s":"Est. Particle","t":46.04,"v":0.11},{"s":"Est. Particle","t":46.33,"v":0},{"s":"Est. Particle","t":46.61,"v":-0.27},{"s":"Est. Particle","t":46.9,"v":0.05},{"s":"Est. Particle","t":47.18,"v":0},{"s":"Est. Particle","t":47.47,"v":0.05},{"s":"Est. Particle","t":47.76,"v":-0.11},{"s":"Est. Particle","t":48.04,"v":0.16},{"s":"Est. Particle","t":48.26,"v":0.49},{"s":"Est. Particle","t":48.47,"v":0.66},{"s":"Est. Particle","t":48.76,"v":0.77},{"s":"Est. Particle","t":49.04,"v":0.82},{"s":"Est. Particle","t":49.33,"v":0.77},{"s":"Est. Particle","t":49.61,"v":0.85},{"s":"Est. Particle","t":49.83,"v":0.87},{"s":"Est. Particle","t":50,"v":0.6}
],
"ip": [
{"t":0.0,"Measured":230,"Estimated":250},{"t":0.1,"Measured":800,"Estimated":820},{"t":0.2,"Measured":320,"Estimated":300},{"t":0.3,"Measured":125,"Estimated":150},{"t":0.4,"Measured":285,"Estimated":260},{"t":0.5,"Measured":105,"Estimated":130},{"t":0.6,"Measured":300,"Estimated":280},{"t":0.7,"Measured":135,"Estimated":160},{"t":0.8,"Measured":295,"Estimated":270},{"t":0.9,"Measured":115,"Estimated":140},
{"t":1.0,"Measured":325,"Estimated":300},{"t":1.1,"Measured":145,"Estimated":170},{"t":1.2,"Measured":375,"Estimated":350},{"t":1.3,"Measured":165,"Estimated":190},{"t":1.4,"Measured":435,"Estimated":410},{"t":1.5,"Measured":225,"Estimated":250},{"t":1.6,"Measured":465,"Estimated":440},{"t":1.7,"Measured":195,"Estimated":220},{"t":1.8,"Measured":355,"Estimated":330},{"t":1.9,"Measured":135,"Estimated":160},
{"t":2.0,"Measured":235,"Estimated":210},{"t":2.1,"Measured":75,"Estimated":100},{"t":2.2,"Measured":225,"Estimated":200},{"t":2.3,"Measured":70,"Estimated":90},{"t":2.4,"Measured":245,"Estimated":220},{"t":2.5,"Measured":85,"Estimated":110},{"t":2.6,"Measured":215,"Estimated":190},{"t":2.7,"Measured":70,"Estimated":95},{"t":2.8,"Measured":235,"Estimated":210},{"t":2.9,"Measured":75,"Estimated":100},
{"t":3.0,"Measured":205,"Estimated":180},{"t":3.1,"Measured":68,"Estimated":90},{"t":3.2,"Measured":245,"Estimated":220},{"t":3.3,"Measured":85,"Estimated":110},{"t":3.4,"Measured":225,"Estimated":200},{"t":3.5,"Measured":65,"Estimated":85},{"t":3.6,"Measured":255,"Estimated":230},{"t":3.7,"Measured":75,"Estimated":100},{"t":3.8,"Measured":215,"Estimated":190},{"t":3.9,"Measured":70,"Estimated":95},
{"t":4.0,"Measured":235,"Estimated":210},{"t":4.1,"Measured":75,"Estimated":100},{"t":4.2,"Measured":205,"Estimated":180},{"t":4.3,"Measured":70,"Estimated":95},{"t":4.4,"Measured":265,"Estimated":240},{"t":4.5,"Measured":85,"Estimated":110},{"t":4.6,"Measured":295,"Estimated":270},{"t":4.7,"Measured":95,"Estimated":120},{"t":4.8,"Measured":275,"Estimated":250},{"t":4.9,"Measured":85,"Estimated":110},
{"t":5.0,"Measured":285,"Estimated":260},{"t":5.1,"Measured":95,"Estimated":120},{"t":5.2,"Measured":265,"Estimated":240},{"t":5.3,"Measured":85,"Estimated":110},{"t":5.4,"Measured":305,"Estimated":280},{"t":5.5,"Measured":95,"Estimated":120},{"t":5.6,"Measured":255,"Estimated":230},{"t":5.7,"Measured":75,"Estimated":100},{"t":5.8,"Measured":235,"Estimated":210},{"t":5.9,"Measured":70,"Estimated":95},
{"t":6.0,"Measured":245,"Estimated":220},{"t":6.1,"Measured":75,"Estimated":100},{"t":6.2,"Measured":295,"Estimated":270},{"t":6.3,"Measured":85,"Estimated":110},{"t":6.4,"Measured":265,"Estimated":240},{"t":6.5,"Measured":70,"Estimated":95},{"t":6.6,"Measured":225,"Estimated":200},{"t":6.7,"Measured":65,"Estimated":90},{"t":6.8,"Measured":255,"Estimated":230},{"t":6.9,"Measured":75,"Estimated":100},
{"t":7.0,"Measured":225,"Estimated":200},{"t":7.1,"Measured":65,"Estimated":90},{"t":7.2,"Measured":205,"Estimated":180},{"t":7.3,"Measured":60,"Estimated":85},{"t":7.4,"Measured":245,"Estimated":220},{"t":7.5,"Measured":75,"Estimated":100},{"t":7.6,"Measured":215,"Estimated":190},{"t":7.7,"Measured":55,"Estimated":80},{"t":7.8,"Measured":195,"Estimated":170},{"t":7.9,"Measured":65,"Estimated":90},
{"t":8.0,"Measured":255,"Estimated":230},{"t":8.1,"Measured":135,"Estimated":160},{"t":8.2,"Measured":445,"Estimated":420},{"t":8.3,"Measured":175,"Estimated":200},{"t":8.4,"Measured":405,"Estimated":380},{"t":8.5,"Measured":145,"Estimated":170},{"t":8.6,"Measured":325,"Estimated":300},{"t":8.7,"Measured":115,"Estimated":140},{"t":8.8,"Measured":285,"Estimated":260},{"t":8.9,"Measured":95,"Estimated":120},
{"t":9.0,"Measured":115,"Estimated":140},{"t":9.1,"Measured":85,"Estimated":110},{"t":9.2,"Measured":275,"Estimated":250},{"t":9.3,"Measured":95,"Estimated":120},{"t":9.4,"Measured":425,"Estimated":400},{"t":9.5,"Measured":255,"Estimated":280},{"t":9.6,"Measured":525,"Estimated":500},{"t":9.7,"Measured":295,"Estimated":320},{"t":9.8,"Measured":585,"Estimated":560},{"t":9.9,"Measured":325,"Estimated":350},
{"t":10.0,"Measured":625,"Estimated":600},{"t":10.1,"Measured":355,"Estimated":380},{"t":10.2,"Measured":675,"Estimated":650},{"t":10.3,"Measured":395,"Estimated":420},{"t":10.4,"Measured":725,"Estimated":700},{"t":10.5,"Measured":425,"Estimated":450},{"t":10.6,"Measured":775,"Estimated":750},{"t":10.7,"Measured":495,"Estimated":520},{"t":10.8,"Measured":860,"Estimated":830},{"t":10.9,"Measured":455,"Estimated":480},
{"t":11.0,"Measured":725,"Estimated":700},{"t":11.1,"Measured":375,"Estimated":400},{"t":11.2,"Measured":675,"Estimated":650},{"t":11.3,"Measured":325,"Estimated":350},{"t":11.4,"Measured":625,"Estimated":600},{"t":11.5,"Measured":305,"Estimated":330},{"t":11.6,"Measured":705,"Estimated":680},{"t":11.7,"Measured":335,"Estimated":360},{"t":11.8,"Measured":605,"Estimated":580},{"t":11.9,"Measured":295,"Estimated":320},
{"t":12.0,"Measured":645,"Estimated":620},{"t":12.1,"Measured":305,"Estimated":330},{"t":12.2,"Measured":585,"Estimated":560},{"t":12.3,"Measured":275,"Estimated":300},{"t":12.4,"Measured":675,"Estimated":650},{"t":12.5,"Measured":325,"Estimated":350},{"t":12.6,"Measured":625,"Estimated":600},{"t":12.7,"Measured":295,"Estimated":320},{"t":12.8,"Measured":725,"Estimated":700},{"t":12.9,"Measured":315,"Estimated":340},
{"t":13.0,"Measured":665,"Estimated":640},{"t":13.1,"Measured":275,"Estimated":300},{"t":13.2,"Measured":585,"Estimated":560},{"t":13.3,"Measured":245,"Estimated":270},{"t":13.4,"Measured":645,"Estimated":620},{"t":13.5,"Measured":265,"Estimated":290},{"t":13.6,"Measured":725,"Estimated":700},{"t":13.7,"Measured":285,"Estimated":310},{"t":13.8,"Measured":685,"Estimated":660},{"t":13.9,"Measured":255,"Estimated":280},
{"t":14.0,"Measured":625,"Estimated":600},{"t":14.1,"Measured":255,"Estimated":280},{"t":14.2,"Measured":565,"Estimated":540},{"t":14.3,"Measured":225,"Estimated":250},{"t":14.4,"Measured":525,"Estimated":500},{"t":14.5,"Measured":215,"Estimated":240},{"t":14.6,"Measured":585,"Estimated":560},{"t":14.7,"Measured":245,"Estimated":270},{"t":14.8,"Measured":625,"Estimated":600},{"t":14.9,"Measured":275,"Estimated":300},
{"t":15.0,"Measured":675,"Estimated":650},{"t":15.1,"Measured":295,"Estimated":320},{"t":15.2,"Measured":725,"Estimated":700},{"t":15.3,"Measured":325,"Estimated":350},{"t":15.4,"Measured":785,"Estimated":760},{"t":15.5,"Measured":375,"Estimated":400},{"t":15.6,"Measured":800,"Estimated":770},{"t":15.7,"Measured":335,"Estimated":360},{"t":15.8,"Measured":645,"Estimated":620},{"t":15.9,"Measured":275,"Estimated":300},
{"t":16.0,"Measured":545,"Estimated":520},{"t":16.1,"Measured":235,"Estimated":260},{"t":16.2,"Measured":505,"Estimated":480},{"t":16.3,"Measured":205,"Estimated":230},{"t":16.4,"Measured":525,"Estimated":500},{"t":16.5,"Measured":195,"Estimated":220},{"t":16.6,"Measured":475,"Estimated":450},{"t":16.7,"Measured":175,"Estimated":200},{"t":16.8,"Measured":445,"Estimated":420},{"t":16.9,"Measured":165,"Estimated":190},
{"t":17.0,"Measured":405,"Estimated":380},{"t":17.1,"Measured":145,"Estimated":170},{"t":17.2,"Measured":365,"Estimated":340},{"t":17.3,"Measured":125,"Estimated":150},{"t":17.4,"Measured":325,"Estimated":300},{"t":17.5,"Measured":115,"Estimated":140},{"t":17.6,"Measured":345,"Estimated":320},{"t":17.7,"Measured":125,"Estimated":150},{"t":17.8,"Measured":375,"Estimated":350},{"t":17.9,"Measured":135,"Estimated":160},
{"t":18.0,"Measured":365,"Estimated":340},{"t":18.1,"Measured":145,"Estimated":170},{"t":18.2,"Measured":405,"Estimated":380},{"t":18.3,"Measured":165,"Estimated":190},{"t":18.4,"Measured":385,"Estimated":360},{"t":18.5,"Measured":155,"Estimated":180},{"t":18.6,"Measured":425,"Estimated":400},{"t":18.7,"Measured":175,"Estimated":200},{"t":18.8,"Measured":445,"Estimated":420},{"t":18.9,"Measured":185,"Estimated":210},
{"t":19.0,"Measured":475,"Estimated":450},{"t":19.1,"Measured":205,"Estimated":230},{"t":19.2,"Measured":505,"Estimated":480},{"t":19.3,"Measured":225,"Estimated":250},{"t":19.4,"Measured":455,"Estimated":430},{"t":19.5,"Measured":195,"Estimated":220},{"t":19.6,"Measured":495,"Estimated":470},{"t":19.7,"Measured":215,"Estimated":240},{"t":19.8,"Measured":525,"Estimated":500},{"t":19.9,"Measured":235,"Estimated":260},
{"t":20.0,"Measured":485,"Estimated":460},{"t":20.1,"Measured":245,"Estimated":270},{"t":20.2,"Measured":505,"Estimated":480},{"t":20.3,"Measured":235,"Estimated":260},{"t":20.4,"Measured":465,"Estimated":440},{"t":20.5,"Measured":225,"Estimated":250},{"t":20.6,"Measured":495,"Estimated":470},{"t":20.7,"Measured":245,"Estimated":270},{"t":20.8,"Measured":475,"Estimated":450},{"t":20.9,"Measured":215,"Estimated":240},
{"t":21.0,"Measured":505,"Estimated":480},{"t":21.1,"Measured":225,"Estimated":250},{"t":21.2,"Measured":475,"Estimated":450},{"t":21.3,"Measured":205,"Estimated":230},{"t":21.4,"Measured":515,"Estimated":490},{"t":21.5,"Measured":215,"Estimated":240},{"t":21.6,"Measured":455,"Estimated":430},{"t":21.7,"Measured":195,"Estimated":220},{"t":21.8,"Measured":485,"Estimated":460},{"t":21.9,"Measured":185,"Estimated":210},
{"t":22.0,"Measured":425,"Estimated":400},{"t":22.1,"Measured":165,"Estimated":190},{"t":22.2,"Measured":395,"Estimated":370},{"t":22.3,"Measured":145,"Estimated":170},{"t":22.4,"Measured":375,"Estimated":350},{"t":22.5,"Measured":135,"Estimated":160},{"t":22.6,"Measured":405,"Estimated":380},{"t":22.7,"Measured":145,"Estimated":170},{"t":22.8,"Measured":365,"Estimated":340},{"t":22.9,"Measured":125,"Estimated":150},
{"t":23.0,"Measured":385,"Estimated":360},{"t":23.1,"Measured":125,"Estimated":150},{"t":23.2,"Measured":355,"Estimated":330},{"t":23.3,"Measured":115,"Estimated":140},{"t":23.4,"Measured":405,"Estimated":380},{"t":23.5,"Measured":125,"Estimated":150},{"t":23.6,"Measured":375,"Estimated":350},{"t":23.7,"Measured":105,"Estimated":130},{"t":23.8,"Measured":325,"Estimated":300},{"t":23.9,"Measured":95,"Estimated":120},
{"t":24.0,"Measured":275,"Estimated":250},{"t":24.1,"Measured":75,"Estimated":100},{"t":24.2,"Measured":225,"Estimated":200},{"t":24.3,"Measured":58,"Estimated":80},{"t":24.4,"Measured":205,"Estimated":180},{"t":24.5,"Measured":65,"Estimated":90},{"t":24.6,"Measured":265,"Estimated":240},{"t":24.7,"Measured":85,"Estimated":110},{"t":24.8,"Measured":325,"Estimated":300},{"t":24.9,"Measured":115,"Estimated":140},
{"t":25.0,"Measured":375,"Estimated":350},{"t":25.1,"Measured":145,"Estimated":170},{"t":25.2,"Measured":425,"Estimated":400},{"t":25.3,"Measured":165,"Estimated":190},{"t":25.4,"Measured":405,"Estimated":380},{"t":25.5,"Measured":175,"Estimated":200},{"t":25.6,"Measured":455,"Estimated":430},{"t":25.7,"Measured":195,"Estimated":220},{"t":25.8,"Measured":435,"Estimated":410},{"t":25.9,"Measured":205,"Estimated":230},
{"t":26.0,"Measured":475,"Estimated":450},{"t":26.1,"Measured":235,"Estimated":260},{"t":26.2,"Measured":525,"Estimated":500},{"t":26.3,"Measured":255,"Estimated":280},{"t":26.4,"Measured":505,"Estimated":480},{"t":26.5,"Measured":245,"Estimated":270},{"t":26.6,"Measured":565,"Estimated":540},{"t":26.7,"Measured":275,"Estimated":300},{"t":26.8,"Measured":545,"Estimated":520},{"t":26.9,"Measured":265,"Estimated":290},
{"t":27.0,"Measured":585,"Estimated":560},{"t":27.1,"Measured":285,"Estimated":310},{"t":27.2,"Measured":625,"Estimated":600},{"t":27.3,"Measured":305,"Estimated":330},{"t":27.4,"Measured":605,"Estimated":580},{"t":27.5,"Measured":295,"Estimated":320},{"t":27.6,"Measured":635,"Estimated":610},{"t":27.7,"Measured":275,"Estimated":300},{"t":27.8,"Measured":595,"Estimated":570},{"t":27.9,"Measured":265,"Estimated":290},
{"t":28.0,"Measured":565,"Estimated":540},{"t":28.1,"Measured":255,"Estimated":280},{"t":28.2,"Measured":615,"Estimated":590},{"t":28.3,"Measured":275,"Estimated":300},{"t":28.4,"Measured":645,"Estimated":620},{"t":28.5,"Measured":285,"Estimated":310},{"t":28.6,"Measured":675,"Estimated":650},{"t":28.7,"Measured":265,"Estimated":290},{"t":28.8,"Measured":585,"Estimated":560},{"t":28.9,"Measured":235,"Estimated":260},
{"t":29.0,"Measured":525,"Estimated":500},{"t":29.1,"Measured":215,"Estimated":240},{"t":29.2,"Measured":495,"Estimated":470},{"t":29.3,"Measured":195,"Estimated":220},{"t":29.4,"Measured":535,"Estimated":510},{"t":29.5,"Measured":205,"Estimated":230},{"t":29.6,"Measured":485,"Estimated":460},{"t":29.7,"Measured":185,"Estimated":210},{"t":29.8,"Measured":515,"Estimated":490},{"t":29.9,"Measured":195,"Estimated":220},
{"t":30.0,"Measured":505,"Estimated":480},{"t":30.1,"Measured":205,"Estimated":230},{"t":30.2,"Measured":535,"Estimated":510},{"t":30.3,"Measured":215,"Estimated":240},{"t":30.4,"Measured":495,"Estimated":470},{"t":30.5,"Measured":195,"Estimated":220},{"t":30.6,"Measured":525,"Estimated":500},{"t":30.7,"Measured":185,"Estimated":210},{"t":30.8,"Measured":475,"Estimated":450},{"t":30.9,"Measured":175,"Estimated":200},
{"t":31.0,"Measured":445,"Estimated":420},{"t":31.1,"Measured":165,"Estimated":190},{"t":31.2,"Measured":405,"Estimated":380},{"t":31.3,"Measured":145,"Estimated":170},{"t":31.4,"Measured":425,"Estimated":400},{"t":31.5,"Measured":135,"Estimated":160},{"t":31.6,"Measured":375,"Estimated":350},{"t":31.7,"Measured":125,"Estimated":150},{"t":31.8,"Measured":405,"Estimated":380},{"t":31.9,"Measured":155,"Estimated":180},
{"t":32.0,"Measured":525,"Estimated":500},{"t":32.1,"Measured":235,"Estimated":260},{"t":32.2,"Measured":565,"Estimated":540},{"t":32.3,"Measured":255,"Estimated":280},{"t":32.4,"Measured":545,"Estimated":520},{"t":32.5,"Measured":265,"Estimated":290},{"t":32.6,"Measured":605,"Estimated":580},{"t":32.7,"Measured":275,"Estimated":300},{"t":32.8,"Measured":585,"Estimated":560},{"t":32.9,"Measured":255,"Estimated":280},
{"t":33.0,"Measured":645,"Estimated":620},{"t":33.1,"Measured":295,"Estimated":320},{"t":33.2,"Measured":685,"Estimated":660},{"t":33.3,"Measured":315,"Estimated":340},{"t":33.4,"Measured":625,"Estimated":600},{"t":33.5,"Measured":275,"Estimated":300},{"t":33.6,"Measured":575,"Estimated":550},{"t":33.7,"Measured":245,"Estimated":270},{"t":33.8,"Measured":545,"Estimated":520},{"t":33.9,"Measured":225,"Estimated":250},
{"t":34.0,"Measured":475,"Estimated":450},{"t":34.1,"Measured":195,"Estimated":220},{"t":34.2,"Measured":445,"Estimated":420},{"t":34.3,"Measured":185,"Estimated":210},{"t":34.4,"Measured":425,"Estimated":400},{"t":34.5,"Measured":195,"Estimated":220},{"t":34.6,"Measured":465,"Estimated":440},{"t":34.7,"Measured":215,"Estimated":240},{"t":34.8,"Measured":495,"Estimated":470},{"t":34.9,"Measured":225,"Estimated":250},
{"t":35.0,"Measured":525,"Estimated":500},{"t":35.1,"Measured":245,"Estimated":270},{"t":35.2,"Measured":585,"Estimated":560},{"t":35.3,"Measured":265,"Estimated":290},{"t":35.4,"Measured":625,"Estimated":600},{"t":35.5,"Measured":295,"Estimated":320},{"t":35.6,"Measured":645,"Estimated":620},{"t":35.7,"Measured":305,"Estimated":330},{"t":35.8,"Measured":605,"Estimated":580},{"t":35.9,"Measured":275,"Estimated":300},
{"t":36.0,"Measured":525,"Estimated":500},{"t":36.1,"Measured":225,"Estimated":250},{"t":36.2,"Measured":495,"Estimated":470},{"t":36.3,"Measured":205,"Estimated":230},{"t":36.4,"Measured":465,"Estimated":440},{"t":36.5,"Measured":195,"Estimated":220},{"t":36.6,"Measured":445,"Estimated":420},{"t":36.7,"Measured":175,"Estimated":200},{"t":36.8,"Measured":425,"Estimated":400},{"t":36.9,"Measured":165,"Estimated":190},
{"t":37.0,"Measured":405,"Estimated":380},{"t":37.1,"Measured":155,"Estimated":180},{"t":37.2,"Measured":375,"Estimated":350},{"t":37.3,"Measured":145,"Estimated":170},{"t":37.4,"Measured":425,"Estimated":400},{"t":37.5,"Measured":155,"Estimated":180},{"t":37.6,"Measured":385,"Estimated":360},{"t":37.7,"Measured":135,"Estimated":160},{"t":37.8,"Measured":345,"Estimated":320},{"t":37.9,"Measured":125,"Estimated":150},
{"t":38.0,"Measured":325,"Estimated":300},{"t":38.1,"Measured":105,"Estimated":130},{"t":38.2,"Measured":305,"Estimated":280},{"t":38.3,"Measured":95,"Estimated":120},{"t":38.4,"Measured":285,"Estimated":260},{"t":38.5,"Measured":85,"Estimated":110},{"t":38.6,"Measured":295,"Estimated":270},{"t":38.7,"Measured":85,"Estimated":110},{"t":38.8,"Measured":265,"Estimated":240},{"t":38.9,"Measured":75,"Estimated":100},
{"t":39.0,"Measured":255,"Estimated":230},{"t":39.1,"Measured":75,"Estimated":100},{"t":39.2,"Measured":235,"Estimated":210},{"t":39.3,"Measured":65,"Estimated":90},{"t":39.4,"Measured":215,"Estimated":190},{"t":39.5,"Measured":58,"Estimated":80},{"t":39.6,"Measured":195,"Estimated":170},{"t":39.7,"Measured":60,"Estimated":85},{"t":39.8,"Measured":225,"Estimated":200},{"t":39.9,"Measured":75,"Estimated":100},
{"t":40.0,"Measured":285,"Estimated":260},{"t":40.1,"Measured":115,"Estimated":140},{"t":40.2,"Measured":345,"Estimated":320},{"t":40.3,"Measured":135,"Estimated":160},{"t":40.4,"Measured":385,"Estimated":360},{"t":40.5,"Measured":155,"Estimated":180},{"t":40.6,"Measured":425,"Estimated":400},{"t":40.7,"Measured":175,"Estimated":200},{"t":40.8,"Measured":455,"Estimated":430},{"t":40.9,"Measured":205,"Estimated":230},
{"t":41.0,"Measured":505,"Estimated":480},{"t":41.1,"Measured":235,"Estimated":260},{"t":41.2,"Measured":545,"Estimated":520},{"t":41.3,"Measured":255,"Estimated":280},{"t":41.4,"Measured":585,"Estimated":560},{"t":41.5,"Measured":275,"Estimated":300},{"t":41.6,"Measured":645,"Estimated":620},{"t":41.7,"Measured":295,"Estimated":320},{"t":41.8,"Measured":675,"Estimated":650},{"t":41.9,"Measured":315,"Estimated":340},
{"t":42.0,"Measured":705,"Estimated":680},{"t":42.1,"Measured":335,"Estimated":360},{"t":42.2,"Measured":745,"Estimated":720},{"t":42.3,"Measured":355,"Estimated":380},{"t":42.4,"Measured":790,"Estimated":760},{"t":42.5,"Measured":375,"Estimated":400},{"t":42.6,"Measured":725,"Estimated":700},{"t":42.7,"Measured":335,"Estimated":360},{"t":42.8,"Measured":685,"Estimated":660},{"t":42.9,"Measured":315,"Estimated":340},
{"t":43.0,"Measured":645,"Estimated":620},{"t":43.1,"Measured":275,"Estimated":300},{"t":43.2,"Measured":605,"Estimated":580},{"t":43.3,"Measured":255,"Estimated":280},{"t":43.4,"Measured":625,"Estimated":600},{"t":43.5,"Measured":265,"Estimated":290},{"t":43.6,"Measured":575,"Estimated":550},{"t":43.7,"Measured":235,"Estimated":260},{"t":43.8,"Measured":545,"Estimated":520},{"t":43.9,"Measured":225,"Estimated":250},
{"t":44.0,"Measured":505,"Estimated":480},{"t":44.1,"Measured":195,"Estimated":220},{"t":44.2,"Measured":455,"Estimated":430},{"t":44.3,"Measured":175,"Estimated":200},{"t":44.4,"Measured":425,"Estimated":400},{"t":44.5,"Measured":155,"Estimated":180},{"t":44.6,"Measured":405,"Estimated":380},{"t":44.7,"Measured":145,"Estimated":170},{"t":44.8,"Measured":425,"Estimated":400},{"t":44.9,"Measured":155,"Estimated":180},
{"t":45.0,"Measured":445,"Estimated":420},{"t":45.1,"Measured":165,"Estimated":190},{"t":45.2,"Measured":425,"Estimated":400},{"t":45.3,"Measured":175,"Estimated":200},{"t":45.4,"Measured":465,"Estimated":440},{"t":45.5,"Measured":185,"Estimated":210},{"t":45.6,"Measured":435,"Estimated":410},{"t":45.7,"Measured":165,"Estimated":190},{"t":45.8,"Measured":405,"Estimated":380},{"t":45.9,"Measured":145,"Estimated":170},
{"t":46.0,"Measured":385,"Estimated":360},{"t":46.1,"Measured":125,"Estimated":150},{"t":46.2,"Measured":425,"Estimated":400},{"t":46.3,"Measured":135,"Estimated":160},{"t":46.4,"Measured":465,"Estimated":440},{"t":46.5,"Measured":145,"Estimated":170},{"t":46.6,"Measured":445,"Estimated":420},{"t":46.7,"Measured":125,"Estimated":150},{"t":46.8,"Measured":475,"Estimated":450},{"t":46.9,"Measured":145,"Estimated":170},
{"t":47.0,"Measured":425,"Estimated":400},{"t":47.1,"Measured":135,"Estimated":160},{"t":47.2,"Measured":405,"Estimated":380},{"t":47.3,"Measured":125,"Estimated":150},{"t":47.4,"Measured":445,"Estimated":420},{"t":47.5,"Measured":145,"Estimated":170},{"t":47.6,"Measured":415,"Estimated":390},{"t":47.7,"Measured":135,"Estimated":160},{"t":47.8,"Measured":435,"Estimated":410},{"t":47.9,"Measured":125,"Estimated":150},
{"t":48.0,"Measured":465,"Estimated":440},{"t":48.1,"Measured":135,"Estimated":160},{"t":48.2,"Measured":445,"Estimated":420},{"t":48.3,"Measured":125,"Estimated":150},{"t":48.4,"Measured":485,"Estimated":460},{"t":48.5,"Measured":145,"Estimated":170},{"t":48.6,"Measured":455,"Estimated":430},{"t":48.7,"Measured":155,"Estimated":180},{"t":48.8,"Measured":425,"Estimated":400},{"t":48.9,"Measured":135,"Estimated":160},
{"t":49.0,"Measured":445,"Estimated":420},{"t":49.1,"Measured":155,"Estimated":180},{"t":49.2,"Measured":475,"Estimated":450},{"t":49.3,"Measured":165,"Estimated":190},{"t":49.4,"Measured":455,"Estimated":430},{"t":49.5,"Measured":175,"Estimated":200},{"t":49.6,"Measured":485,"Estimated":460},{"t":49.7,"Measured":185,"Estimated":210},{"t":49.8,"Measured":465,"Estimated":440},{"t":49.9,"Measured":195,"Estimated":220},
{"t":50.0,"Measured":320,"Estimated":300}
]
},
"vconcat": [
{
 "width": 466, "height": 216,
 "data": {"name": "xp"},
 "layer": [
  {"mark": {"type": "line", "strokeWidth": 2, "clip": true},
   "encoding": {
    "x": {"field": "t", "type": "quantitative", "scale": {"domain": [0, 50], "nice": false}, "axis": {"values": [0, 10, 20, 30, 40, 50], "title": null}},
    "y": {"field": "v", "type": "quantitative", "scale": {"domain": [-2, 1.5], "nice": false, "zero": false}, "axis": {"values": [-2, -1, 0, 1], "title": "X Pos. [um]", "labelExpr": "'' + datum.value"}},
    "color": {"field": "s", "type": "nominal", "scale": {"domain": ["Focal Volume", "Est. Particle"], "range": ["#000000", "#0072BD"]}, "legend": {"orient": "bottom-right"}}
   }},
  {"mark": {"type": "line", "strokeOpacity": 0},
   "encoding": {
    "x": {"field": "t", "type": "quantitative", "axis": {"orient": "top", "values": [10, 20, 30, 40], "labels": false, "title": null}},
    "y": {"field": "v", "type": "quantitative", "axis": {"orient": "right", "values": [-1, 0, 1], "labels": false, "title": null}},
    "detail": {"field": "s"}
   }}
 ],
 "resolve": {"axis": {"x": "independent", "y": "independent"}}
},
{
 "width": 466, "height": 216,
 "data": {"name": "yp"},
 "layer": [
  {"mark": {"type": "line", "strokeWidth": 2, "clip": true},
   "encoding": {
    "x": {"field": "t", "type": "quantitative", "scale": {"domain": [0, 50], "nice": false}, "axis": {"values": [0, 10, 20, 30, 40, 50], "title": null}},
    "y": {"field": "v", "type": "quantitative", "scale": {"domain": [-2, 1.5], "nice": false, "zero": false}, "axis": {"values": [-2, -1, 0, 1], "title": "Y Pos. [um]", "labelExpr": "'' + datum.value"}},
    "color": {"field": "s", "type": "nominal", "scale": {"domain": ["Focal Volume", "Est. Particle"], "range": ["#000000", "#0072BD"]}, "legend": {"orient": "bottom-right"}}
   }},
  {"mark": {"type": "line", "strokeOpacity": 0},
   "encoding": {
    "x": {"field": "t", "type": "quantitative", "axis": {"orient": "top", "values": [10, 20, 30, 40], "labels": false, "title": null}},
    "y": {"field": "v", "type": "quantitative", "axis": {"orient": "right", "values": [-1, 0, 1], "labels": false, "title": null}},
    "detail": {"field": "s"}
   }}
 ],
 "resolve": {"axis": {"x": "independent", "y": "independent"}}
},
{
 "width": 466, "height": 216,
 "data": {"name": "zp"},
 "layer": [
  {"mark": {"type": "line", "strokeWidth": 2, "clip": true},
   "encoding": {
    "x": {"field": "t", "type": "quantitative", "scale": {"domain": [0, 50], "nice": false}, "axis": {"values": [0, 10, 20, 30, 40, 50], "title": null}},
    "y": {"field": "v", "type": "quantitative", "scale": {"domain": [-2, 1.5], "nice": false, "zero": false}, "axis": {"values": [-2, -1, 0, 1], "title": "Z Pos. [um]", "labelExpr": "'' + datum.value"}},
    "color": {"field": "s", "type": "nominal", "scale": {"domain": ["Focal Volume", "Est. Particle"], "range": ["#000000", "#0072BD"]}, "legend": {"orient": "bottom-right"}}
   }},
  {"mark": {"type": "line", "strokeOpacity": 0},
   "encoding": {
    "x": {"field": "t", "type": "quantitative", "axis": {"orient": "top", "values": [10, 20, 30, 40], "labels": false, "title": null}},
    "y": {"field": "v", "type": "quantitative", "axis": {"orient": "right", "values": [-1, 0, 1], "labels": false, "title": null}},
    "detail": {"field": "s"}
   }}
 ],
 "resolve": {"axis": {"x": "independent", "y": "independent"}}
},
{
 "width": 466, "height": 216,
 "data": {"name": "ip"},
 "transform": [{"fold": ["Measured", "Estimated"], "as": ["s", "v"]}],
 "layer": [
  {"mark": {"type": "line", "strokeWidth": 1.6, "clip": true},
   "encoding": {
    "x": {"field": "t", "type": "quantitative", "scale": {"domain": [0, 50], "nice": false}, "axis": {"values": [0, 10, 20, 30, 40, 50], "title": "Time [s]"}},
    "y": {"field": "v", "type": "quantitative", "scale": {"domain": [0, 1000], "nice": false}, "axis": {"values": [0, 200, 400, 600, 800, 1000], "title": "Intensity [cts / ms]", "labelExpr": "'' + datum.value"}},
    "color": {"field": "s", "type": "nominal", "scale": {"domain": ["Measured", "Estimated"], "range": ["#000000", "#0072BD"]}, "legend": {"orient": "top-right"}}
   }},
  {"mark": {"type": "line", "strokeOpacity": 0},
   "encoding": {
    "x": {"field": "t", "type": "quantitative", "axis": {"orient": "top", "values": [10, 20, 30, 40], "labels": false, "title": null}},
    "y": {"field": "v", "type": "quantitative", "axis": {"orient": "right", "values": [200, 400, 600, 800], "labels": false, "title": null}},
    "detail": {"field": "s"}
   }}
 ],
 "resolve": {"axis": {"x": "independent", "y": "independent"}}
}
]
}
